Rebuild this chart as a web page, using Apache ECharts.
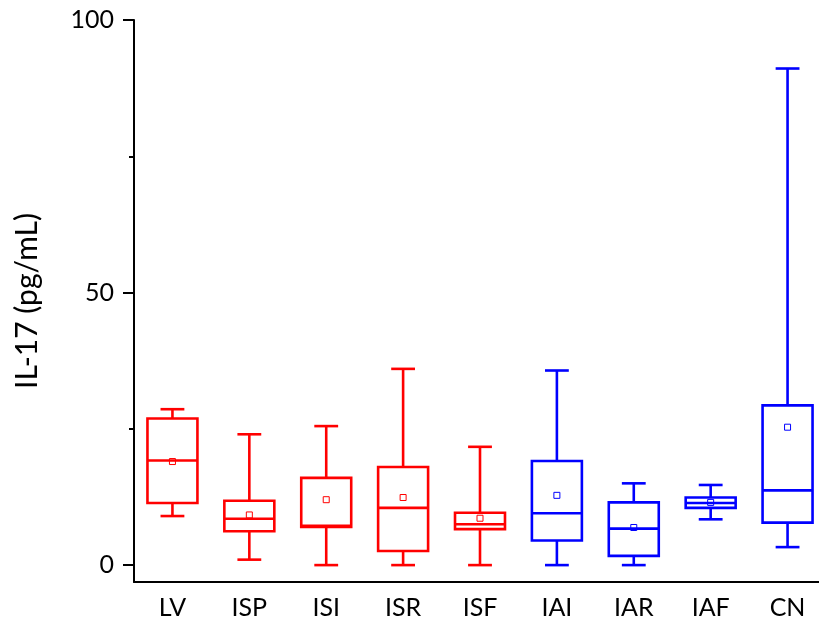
<!DOCTYPE html>
<html>
<head>
<meta charset="utf-8">
<script src="https://cdn.jsdelivr.net/npm/echarts@6/dist/echarts.min.js"></script>
<style>html,body{margin:0;padding:0;background:#fff;}#chart{width:819px;height:631px;}</style>
</head>
<body>
<div id="chart"></div>
<script>
const categories = ['LV', 'ISP', 'ISI', 'ISR', 'ISF', 'IAI', 'IAR', 'IAF', 'CN'];
const mins    = [9.0, 1.0, 0.0, 0.0, 0.0, 0.0, 0.0, 8.4, 3.3];
const q1s     = [11.4, 6.2, 7.0, 2.6, 6.6, 4.5, 1.7, 10.5, 7.8];
const medians = [19.2, 8.5, 7.2, 10.5, 7.5, 9.5, 6.7, 11.4, 13.7];
const q3s     = [26.9, 11.8, 16.0, 18.0, 9.6, 19.1, 11.5, 12.4, 29.3];
const maxs    = [28.6, 24.0, 25.5, 36.0, 21.7, 35.7, 15.0, 14.7, 91.1];
const means   = [19.0, 9.2, 12.0, 12.4, 8.6, 12.8, 6.9, 11.5, 25.3];
const yTickLabels = [0, 50, 100];
const yMinorTicks = [25, 75];
const groupA = [0, 1, 2, 3, 4];   // red group
const groupB = [5, 6, 7, 8];      // blue group

function rows(idx) {
  return idx.map(i => [i, mins[i], q1s[i], medians[i], q3s[i], maxs[i], means[i]]);
}

function makeRender(color) {
  return function (params, api) {
    const x = api.value(0);
    const band = api.size([1, 0])[0];
    const bw = band * 0.65;
    const cw = band * 0.31;
    const pMin = api.coord([x, api.value(1)]);
    const pQ1 = api.coord([x, api.value(2)]);
    const pMed = api.coord([x, api.value(3)]);
    const pQ3 = api.coord([x, api.value(4)]);
    const pMax = api.coord([x, api.value(5)]);
    const pMean = api.coord([x, api.value(6)]);
    const cx = pMin[0];
    const st = { stroke: color, lineWidth: 2.6, fill: null };
    const line = (x1, y1, x2, y2) => ({ type: 'line', shape: { x1, y1, x2, y2 }, style: st });
    return {
      type: 'group',
      children: [
        line(cx, pMax[1], cx, pQ3[1]),
        line(cx, pQ1[1], cx, pMin[1]),
        line(cx - cw / 2, pMax[1], cx + cw / 2, pMax[1]),
        line(cx - cw / 2, pMin[1], cx + cw / 2, pMin[1]),
        { type: 'rect', shape: { x: cx - bw / 2, y: pQ3[1], width: bw, height: pQ1[1] - pQ3[1] }, style: st },
        line(cx - bw / 2, pMed[1], cx + bw / 2, pMed[1]),
        { type: 'rect', shape: { x: cx - 3, y: pMean[1] - 3, width: 6, height: 6 }, style: { stroke: color, lineWidth: 1, fill: null } }
      ]
    };
  };
}

const chart = echarts.init(document.getElementById('chart'));
const font = 'Lato';
chart.setOption({
  animation: false,
  backgroundColor: '#fff',
  grid: { left: 134, width: 692, top: 20, bottom: 49, containLabel: false, outerBoundsMode: 'none' },
  xAxis: {
    type: 'category',
    data: categories,
    boundaryGap: true,
    axisLine: { onZero: false, lineStyle: { color: '#000', width: 2 } },
    axisTick: { show: false },
    axisLabel: { color: '#000', fontFamily: font, fontSize: 25, margin: 13 },
    splitLine: { show: false }
  },
  yAxis: [{
    type: 'value',
    position: 'left',
    min: -3.1,
    max: 100,
    name: 'IL-17 (pg/mL)',
    nameLocation: 'middle',
    nameGap: 92,
    nameTextStyle: { color: '#000', fontFamily: font, fontSize: 30 },
    axisLine: { show: true, lineStyle: { color: '#000', width: 2 } },
    axisTick: { show: true, length: 11, lineStyle: { color: '#000', width: 2 }, customValues: yTickLabels },
    axisLabel: { color: '#000', fontFamily: font, fontSize: 25, margin: 20, customValues: yTickLabels },
    splitLine: { show: false }
  }, {
    type: 'value',
    position: 'left',
    offset: 0,
    min: -3.1,
    max: 100,
    axisLine: { show: false },
    axisTick: { show: true, length: 5, lineStyle: { color: '#000', width: 2 }, customValues: yMinorTicks },
    axisLabel: { show: false },
    splitLine: { show: false }
  }],
  series: [
    { type: 'custom', name: 'IS', data: rows(groupA), renderItem: makeRender('#ff0000'), encode: { x: 0, y: [1, 2, 3, 4, 5, 6] }, z: 3 },
    { type: 'custom', name: 'IA', data: rows(groupB), renderItem: makeRender('#0000ff'), encode: { x: 0, y: [1, 2, 3, 4, 5, 6] }, z: 3 }
  ]
});
</script>
</body>
</html>
